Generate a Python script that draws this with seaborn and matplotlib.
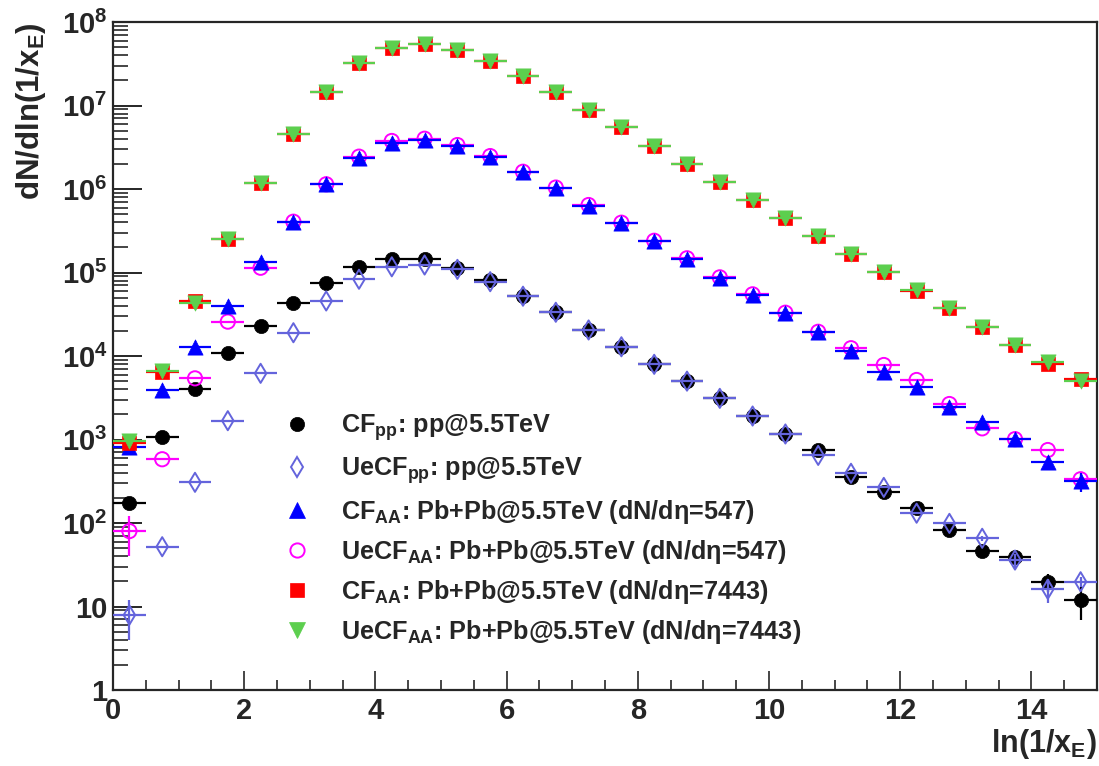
import numpy as np
import pandas as pd
import matplotlib
matplotlib.use("Agg")
import matplotlib.pyplot as plt
import seaborn as sns
from matplotlib.ticker import FixedLocator, FixedFormatter, MultipleLocator, NullFormatter
from matplotlib.lines import Line2D

# ---- data: bin centres of ln(1/x_E) and dN/dln(1/x_E) per sample ----
bin_centers = [0.25, 0.75, 1.25, 1.75, 2.25, 2.75, 3.25, 3.75, 4.25, 4.75,
               5.25, 5.75, 6.25, 6.75, 7.25, 7.75, 8.25, 8.75, 9.25, 9.75,
               10.25, 10.75, 11.25, 11.75, 12.25, 12.75, 13.25, 13.75, 14.25, 14.75]
bin_half_width = 0.25

cf_pp = [175, 1080, 4000, 10800, 22900, 43500, 75500, 117000, 147000, 144000,
         114000, 81000, 52000, 33400, 20500, 12900, 7950, 5000, 3110, 1910,
         1164, 748, 352, 237, 150, 82, 46.6, 38.8, 19.8, 12]
uecf_pp = [7.9, 52, 307, 1680, 6200, 19000, 45600, 83000, 117000, 123000,
           109000, 77600, 52000, 33400, 20500, 12900, 7950, 5000, 3110, 1910,
           1164, 645, 394, 267, 131, 99, 65.6, 36, 16.1, 19.8]
cf_aa_547 = [820, 3920, 12900, 40000, 132000, 406000, 1.14e6, 2.37e6, 3.59e6, 3.86e6,
             3.30e6, 2.44e6, 1.61e6, 1.04e6, 631000, 395000, 236000, 144000, 85300, 53900,
             32400, 19500, 11600, 6490, 4220, 2470, 1630, 1010, 542, 318]
uecf_aa_547 = [80, 580, 5400, 25800, 114000, 406000, 1.14e6, 2.44e6, 3.76e6, 4.0e6,
               3.36e6, 2.48e6, 1.61e6, 1.04e6, 643000, 395000, 240000, 148000, 87500, 54800,
               33000, 19500, 12400, 7800, 5160, 2660, 1360, 1010, 748, 334]
cf_aa_7443 = [900, 6490, 45500, 250000, 1.17e6, 4.52e6, 1.44e7, 3.26e7, 4.92e7, 5.45e7,
              4.66e7, 3.44e7, 2.27e7, 1.45e7, 8.9e6, 5.53e6, 3.3e6, 2.01e6, 1.22e6, 745000,
              453000, 274000, 167000, 100500, 60000, 37300, 22400, 13500, 8010, 5260]
uecf_aa_7443 = [950, 6600, 43500, 250000, 1.17e6, 4.52e6, 1.44e7, 3.26e7, 4.92e7, 5.5e7,
                4.66e7, 3.44e7, 2.27e7, 1.45e7, 8.9e6, 5.53e6, 3.3e6, 2.01e6, 1.22e6, 745000,
                453000, 274000, 167000, 100500, 61000, 37300, 22400, 13500, 8550, 5000]

# statistical uncertainties (only the ones larger than the markers matter)
cf_pp_err = [0] * 26 + [3, 4, 5, 5.1]
uecf_pp_err = [3.9] + [0] * 25 + [5, 7, 5, 2.7]
cf_aa_547_err = [0] * 29 + [80]
uecf_aa_547_err = [40] + [0] * 28 + [50]
cf_aa_7443_err = [0] * 30
uecf_aa_7443_err = [0] * 30

labels = [
    r"CF$_{\mathregular{pp}}$: pp@5.5TeV",
    r"UeCF$_{\mathregular{pp}}$: pp@5.5TeV",
    r"CF$_{\mathregular{AA}}$: Pb+Pb@5.5TeV (dN/dη=547)",
    r"UeCF$_{\mathregular{AA}}$: Pb+Pb@5.5TeV (dN/dη=547)",
    r"CF$_{\mathregular{AA}}$: Pb+Pb@5.5TeV (dN/dη=7443)",
    r"UeCF$_{\mathregular{AA}}$: Pb+Pb@5.5TeV (dN/dη=7443)",
]
values = [cf_pp, uecf_pp, cf_aa_547, uecf_aa_547, cf_aa_7443, uecf_aa_7443]
errors = [cf_pp_err, uecf_pp_err, cf_aa_547_err, uecf_aa_547_err, cf_aa_7443_err, uecf_aa_7443_err]

# ---- styling ----
sns.set_style("ticks")
plt.rcParams["font.family"] = ["Liberation Sans", "DejaVu Sans"]
plt.rcParams["font.weight"] = "bold"
plt.rcParams["mathtext.fontset"] = "custom"
plt.rcParams["mathtext.rm"] = "Liberation Sans:bold"
plt.rcParams["mathtext.it"] = "Liberation Sans:bold"
plt.rcParams["mathtext.bf"] = "Liberation Sans:bold"
plt.rcParams["axes.linewidth"] = 1.6

# (marker, marker size, edge colour, filled, error-bar colour, z-order)
styles = [
    ("o", 105, "#000000", True, "#000000", 3),
    ("d", 95, "#6464dc", False, "#6464dc", 4),
    ("^", 120, "#0000ff", True, "#0000ff", 6),
    ("o", 105, "#ff00ff", False, "#ff00ff", 5),
    ("s", 110, "#ff0000", True, "#ff0000", 7),
    ("v", 120, "#5ccf4e", True, "#5ccf4e", 8),
]

frames = []
for lab, vals in zip(labels, values):
    frames.append(pd.DataFrame({"x": bin_centers, "y": vals, "series": lab}))
df = pd.concat(frames, ignore_index=True)

fig = plt.figure(figsize=(10.99, 7.66), dpi=100)
ax = fig.add_axes([113 / 1099, 76 / 766, 984 / 1099, 668 / 766])

handles = []
for lab, err, (mk, s, col, filled, ecol, z) in zip(labels, errors, styles):
    sub = df[df["series"] == lab]
    ax.errorbar(sub["x"], sub["y"], xerr=bin_half_width, yerr=err, fmt="none",
                ecolor=ecol, elinewidth=1.6, capsize=0, zorder=z)
    if filled:
        sns.scatterplot(data=sub, x="x", y="y", ax=ax, marker=mk, s=s, color=col,
                        edgecolor=col, linewidth=0.5, zorder=z + 0.5, legend=False)
    else:
        sns.scatterplot(data=sub, x="x", y="y", ax=ax, marker=mk, s=s,
                        facecolors="none", edgecolor=col, linewidth=1.4,
                        zorder=z + 0.5, legend=False)
    handles.append(Line2D([], [], linestyle="none", marker=mk,
                          markersize=np.sqrt(s),
                          markerfacecolor=col if filled else "none",
                          markeredgecolor=col, markeredgewidth=1.4 if not filled else 0.5,
                          label=lab))

ax.set_yscale("log")
ax.set_xlim(0, 15)
ax.set_ylim(1, 1e8)

# y axis: decades with ROOT-like labels
decades = [1, 10, 1e2, 1e3, 1e4, 1e5, 1e6, 1e7, 1e8]
decade_labels = ["1", "10"] + [r"$\mathregular{10^{%d}}$" % k for k in range(2, 9)]
ax.yaxis.set_major_locator(FixedLocator(decades))
ax.yaxis.set_major_formatter(FixedFormatter(decade_labels))
minor = [m * 10 ** k for k in range(0, 8) for m in range(2, 10)]
ax.yaxis.set_minor_locator(FixedLocator(minor))
ax.yaxis.set_minor_formatter(NullFormatter())

ax.xaxis.set_major_locator(MultipleLocator(2))
ax.xaxis.set_minor_locator(MultipleLocator(0.5))

ax.tick_params(axis="y", which="major", direction="in", length=21, width=1.4,
               labelsize=21, pad=4, left=True, right=False)
ax.tick_params(axis="y", which="minor", direction="in", length=11, width=1.2,
               left=True, right=False)
ax.tick_params(axis="x", which="major", direction="in", length=14, width=1.2,
               labelsize=21, pad=5, bottom=True, top=False)
ax.tick_params(axis="x", which="minor", direction="in", length=7, width=1.2,
               bottom=True, top=False)

ax.set_xlabel(r"ln(1/x$_{\mathregular{E}}$)", fontsize=22, fontweight="bold", loc="right")
ax.xaxis.set_label_coords(1.0, -0.056)
ax.set_ylabel(r"dN/dln(1/x$_{\mathregular{E}}$)", fontsize=22.5, fontweight="bold", loc="top")
ax.yaxis.set_label_coords(-0.066, 1.0)

for sp in ax.spines.values():
    sp.set_linewidth(1.6)
    sp.set_visible(True)

leg = ax.legend(handles=handles, loc="upper left", bbox_to_anchor=(0.1727, 0.416),
                frameon=False, fontsize=18.2, labelspacing=0.48, handlelength=1.08,
                handletextpad=1.2, borderpad=0, borderaxespad=0)
for t in leg.get_texts():
    t.set_fontweight("bold")

fig.savefig("out.png", dpi=100)
